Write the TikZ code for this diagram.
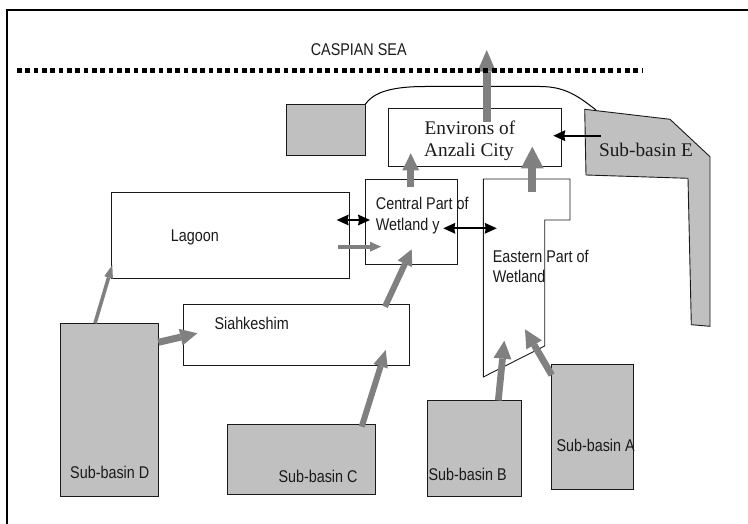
\documentclass[tikz,border=0pt]{standalone}
\usepackage{fontspec}
\setmainfont{Liberation Serif}
\newfontfamily\sanscond[FakeStretch=0.845]{Liberation Sans}
\usetikzlibrary{arrows.meta}
\definecolor{boxgray}{HTML}{C0C0C0}
\definecolor{arrgray}{HTML}{808080}
\definecolor{inkc}{HTML}{1A1A1A}
\tikzset{
  box/.style={draw=inkc, line width=0.9pt, inner sep=0pt, outer sep=0pt, anchor=north west},
  basin/.style={box, fill=boxgray},
  stxt/.style={font=\sanscond\fontsize{17}{21}\selectfont, text=inkc, inner sep=0pt, anchor=base west},
  rtxt/.style={font=\fontsize{19.3}{23}\selectfont, text=inkc, inner sep=0pt, anchor=base},
  garrow/.style n args={3}{draw=arrgray, line width=#1, -{Triangle[width=#2,length=#3,line width=0pt]}},
  btip/.tip={Stealth[length=12pt,width=11pt,inset=1pt,line width=0pt]},
  barrow/.style={draw=black, line width=2.2pt, -btip},
  bdarrow/.style={draw=black, line width=2.2pt, btip-btip},
  seaedge/.style={draw=black, line width=1pt},
  sealine/.style={draw=black, line width=5pt, dash pattern=on 4.7pt off 3.63pt},
  frameline/.style={draw=black, line width=1.7pt}
}
\begin{document}
\begin{tikzpicture}[x=1pt,y=-1pt]
\useasboundingbox (0,0) rectangle (748,524);
\clip (0,0) rectangle (748,524);
\fill[white] (0,0) rectangle (748,524);
% frame
\draw[frameline] (7.3,540) -- (7.3,10) -- (760,10);
% coast curve
\coordinate (cst) at (365.5,104);
\coordinate (cen) at (596,110);
\draw[seaedge] (cst) .. controls (372,95) and (385,86.5) .. (425,86.5) -- (540,86.5) .. controls (565,86.5) and (578,96) .. (cen);
% boxes
\node[basin, minimum width=79.5pt, minimum height=51pt] (port) at (286,104) {};
\node[box, minimum width=173pt, minimum height=57.7pt] (env) at (388,108.3) {};
\node[box, minimum width=92pt, minimum height=85.3pt] (central) at (365,179) {};
\node[box, minimum width=237.3pt, minimum height=85.7pt] (lagoon) at (111.7,192.3) {};
\node[box, minimum width=226.7pt, minimum height=60.3pt] (siah) at (183,304.7) {};
\node[basin, minimum width=98.3pt, minimum height=172.6pt] (sbD) at (60,323.7) {};
\node[basin, minimum width=148.2pt, minimum height=70pt] (sbC) at (227.3,424.7) {};
\node[basin, minimum width=93.6pt, minimum height=96pt] (sbB) at (427.7,400.7) {};
\node[basin, minimum width=82pt, minimum height=125pt] (sbA) at (551.3,364.7) {};
% Eastern part polygon
\draw[draw=inkc, line width=0.9pt, fill=white] (483.3,179) -- (570,179) -- (570,220) -- (544.7,220) -- (544.7,346) -- (483.3,377) -- cycle;
% Sub-basin E polygon
\draw[draw=inkc, line width=0.9pt, fill=boxgray] (584.7,109.3) -- (670,119.3) -- (710,156.7) -- (710,326.3) -- (691.3,324.7) -- (688,178.3) -- (586,175) -- cycle;
% texts
\node[stxt, anchor=base] (sea) at (358.7,55.7) {CASPIAN SEA};
\node[rtxt] (env1) at (470,135) {Environs of};
\node[rtxt] (env2) at (469,156.7) {Anzali City};
\node[rtxt] (sbEt) at (646,156.7) {Sub-basin E};
\node[stxt] (cen1) at (375.7,209.3) {Central Part of};
\node[stxt] (cen2) at (375.7,230.7) {Wetland y};
\node[stxt] (eas1) at (492.7,262.3) {Eastern Part of};
\node[stxt] (eas2) at (492.7,282.7) {Wetland};
\node[stxt] (lagt) at (170.7,241.7) {Lagoon};
\node[stxt] (siat) at (214.3,329.3) {Siahkeshim};
\node[stxt] (sbDt) at (70,478.7) {Sub-basin D};
\node[stxt] (sbCt) at (278.3,482) {Sub-basin C};
\node[stxt] (sbBt) at (428.3,480.3) {Sub-basin B};
\node[stxt] (sbAt) at (556.3,451.3) {Sub-basin A};
% arrow end coordinates
\coordinate (upS) at (486.7,121.7);  \coordinate (upT) at (486.7,50);
\coordinate (ceS) at (410.7,186.7);  \coordinate (ceT) at (410.7,153.3);
\coordinate (eeS) at (532.3,191.7);  \coordinate (eeT) at (532.3,146.7);
\coordinate (lcS) at (338.3,246.7);  \coordinate (lcT) at (381,246.7);
\coordinate (dlS) at (95,323.3);     \coordinate (dlT) at (112.3,265);
\coordinate (dsS) at (158.3,342.3);  \coordinate (dsT) at (197.3,333.3);
\coordinate (scS) at (385,306.7);    \coordinate (scT) at (411.7,249.3);
\coordinate (csS) at (361.7,426.7);  \coordinate (csT) at (385.7,350);
\coordinate (beS) at (498.3,400.5);  \coordinate (beT) at (504.3,340.7);
\coordinate (aeS) at (551.7,375);    \coordinate (aeT) at (525,329.3);
\coordinate (ebS) at (600.7,135.7);  \coordinate (ebT) at (553.3,135.7);
\coordinate (lcA) at (336.7,220);    \coordinate (lcB) at (370,220);
\coordinate (ceA) at (443.3,228.3);  \coordinate (ceB) at (496.7,228.3);
% gray flow arrows
\draw[garrow={8.3pt}{18.7pt}{21.7pt}] (upS) -- (upT);
\draw[garrow={6.7pt}{16.7pt}{17pt}] (ceS) -- (ceT);
\draw[garrow={8.3pt}{22.7pt}{21.7pt}] (eeS) -- (eeT);
\draw[garrow={4pt}{10pt}{11pt}] (lcS) -- (lcT);
\draw[garrow={3.6pt}{9pt}{13pt}] (dlS) -- (dlT);
\draw[garrow={7pt}{17pt}{17pt}] (dsS) -- (dsT);
\draw[garrow={6pt}{16pt}{16pt}] (scS) -- (scT);
\draw[garrow={6pt}{15pt}{17pt}] (csS) -- (csT);
\draw[garrow={6.7pt}{18pt}{18pt}] (beS) -- (beT);
\draw[garrow={6.7pt}{18pt}{18pt}] (aeS) -- (aeT);
% black arrows
\draw[barrow] (ebS) -- (ebT);
\draw[bdarrow] (lcA) -- (lcB);
\draw[bdarrow] (ceA) -- (ceB);
% sea dotted line
\coordinate (seaL) at (17,70.8);
\coordinate (seaR) at (643.3,70.8);
\draw[sealine] (seaL) -- (seaR);
\end{tikzpicture}
\end{document}
